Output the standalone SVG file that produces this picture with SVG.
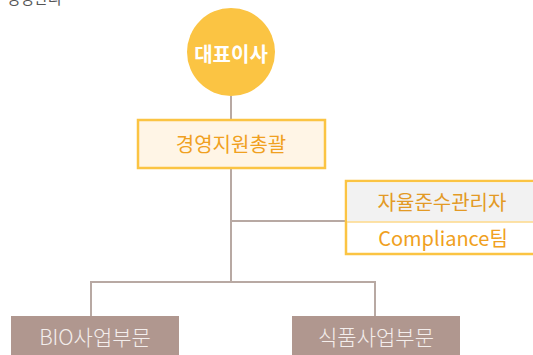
<svg xmlns="http://www.w3.org/2000/svg" width="533" height="355" viewBox="0 0 533 355">
<style>
text{font-family:"Noto Sans CJK KR","Noto Sans",sans-serif;text-anchor:middle;dominant-baseline:central}
.ln{stroke:#b8a9a3;stroke-width:2;fill:none}
.yb{stroke:#fbc443;stroke-width:2.5}
.org{fill:#f0a020;font-size:20px}
.bot{fill:#b0978f}
.bt{fill:#f4eeec;font-size:21px;font-weight:300}
</style>
<rect width="533" height="355" fill="#fff"/>
<text x="34" y="-3" style="font-size:15px;fill:#555">경영관리</text>
<g id="connectors">
<path class="ln" d="M231 96V119M231 168V282M231 221H345M91 282H375M91 281V316M375 281V316"/>
</g>
<g id="ceo">
<circle cx="231" cy="52" r="44" fill="#fbc443"/>
<text x="231" y="53" style="fill:#fff;font-size:20px;font-weight:bold">대표이사</text>
</g>
<g id="mgmt">
<rect class="yb" x="138" y="120" width="187" height="48" fill="#fff5e6"/>
<text class="org" x="231" y="143">경영지원총괄</text>
</g>
<g id="compliance">
<rect class="yb" x="346" y="181" width="200" height="73" fill="#fff"/>
<rect x="347.5" y="182.5" width="197" height="39" fill="#f2f2f2"/>
<line x1="347" y1="222" x2="546" y2="222" stroke="#fcd98a" stroke-width="1.5"/>
<text class="org" x="442" y="201" style="fill:#e39a25">자율준수관리자</text>
<text class="org" x="443" y="237">Compliance팀</text>
</g>
<g id="bio">
<rect class="bot" x="11" y="316" width="168" height="45"/>
<text class="bt" x="95" y="336">BIO사업부문</text>
</g>
<g id="food">
<rect class="bot" x="292" y="316" width="168" height="45"/>
<text class="bt" x="376" y="336">식품사업부문</text>
</g>
</svg>
